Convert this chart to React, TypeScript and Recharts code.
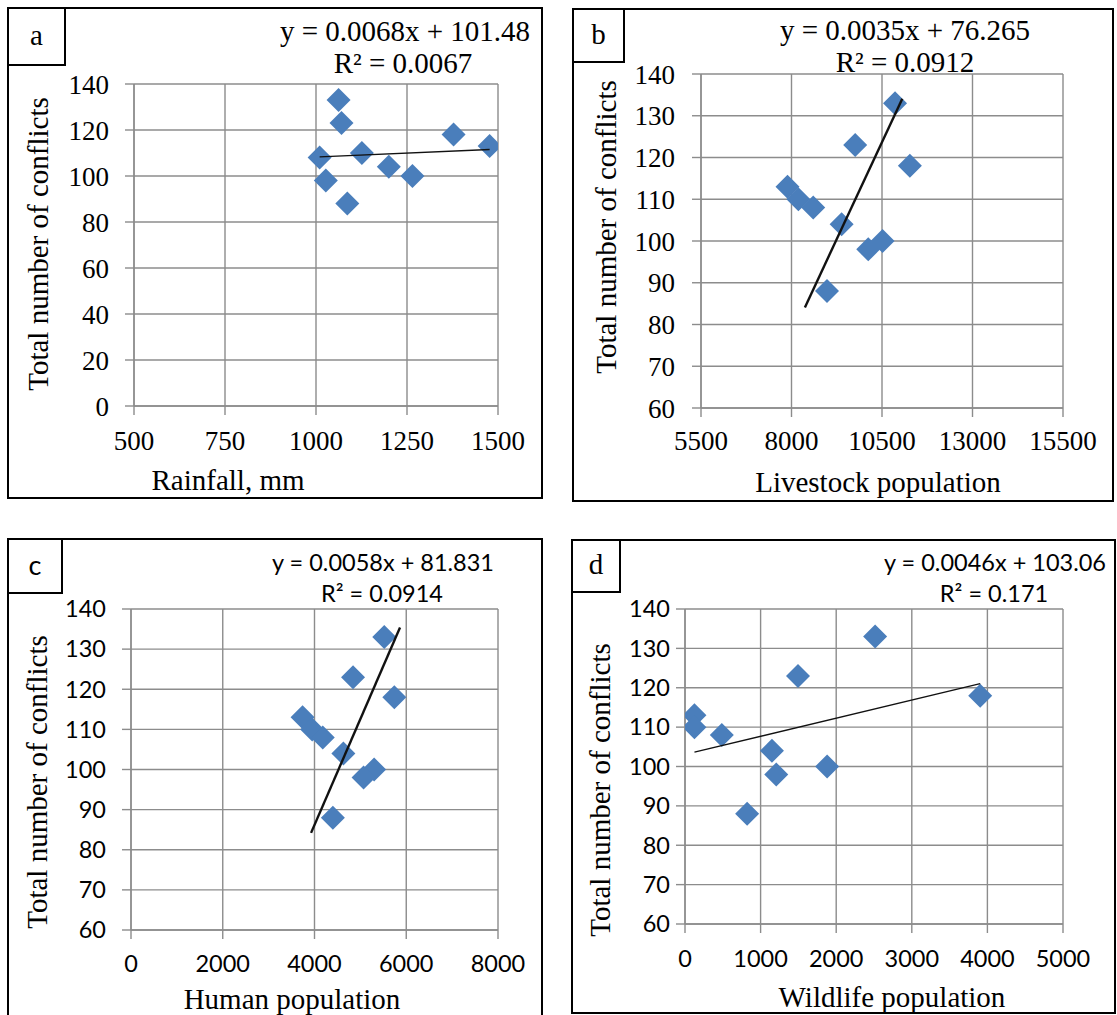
import React from 'react';
import { ScatterChart, Scatter, XAxis, YAxis, CartesianGrid } from 'recharts';

// Total number of conflicts recorded per observation
const conflicts = [133, 123, 118, 113, 110, 108, 104, 100, 98, 88];

// Explanatory variables, same order as conflicts
const rainfallMm = [1062, 1070, 1378, 1477, 1126, 1010, 1200, 1265, 1027, 1086];
const livestockPop = [10860, 9760, 11270, 7890, 8190, 8600, 9385, 10515, 10120, 8980];
const humanPop = [5520, 4840, 5740, 3740, 3950, 4180, 4630, 5300, 5070, 4400];
const wildlifePop = [2515, 1495, 3905, 125, 125, 487, 1150, 1880, 1207, 822];

// Axis ticks
const rainfallTicks = [500, 750, 1000, 1250, 1500];
const livestockTicks = [5500, 8000, 10500, 13000, 15500];
const humanTicks = [0, 2000, 4000, 6000, 8000];
const wildlifeTicks = [0, 1000, 2000, 3000, 4000, 5000];
const conflictTicksFull = [0, 20, 40, 60, 80, 100, 120, 140];
const conflictTicksUpper = [60, 70, 80, 90, 100, 110, 120, 130, 140];

// Linear fits reported on each panel
const rainfallFit = { slope: 0.0068, intercept: 101.48, r2: 0.0067 };
const livestockFit = { slope: 0.0035, intercept: 76.265, r2: 0.0912 };
const humanFit = { slope: 0.0058, intercept: 81.831, r2: 0.0914 };
const wildlifeFit = { slope: 0.0046, intercept: 103.06, r2: 0.171 };

// Drawn trend segments for the livestock and human panels
const livestockTrendX = [8370, 11060];
const livestockTrendY = [84.1, 134.1];
const humanTrendX = [3925, 5864];
const humanTrendY = [84.2, 135.4];

const SERIF = '"Liberation Serif", "Times New Roman", serif';
const SANS = 'Lato, "Liberation Sans", sans-serif';
const GRID = '#8c8c8c';
const MARKER = '#4A7EBB';
const TITLE_SIZE = 29;

const pairs = (xs: number[], ys: number[]) => xs.map((x, i) => ({ x, y: ys[i] }));

const fitSegment = (xs: number[], fit: { slope: number; intercept: number }) => {
  const lo = Math.min(...xs);
  const hi = Math.max(...xs);
  return [
    { x: lo, y: fit.slope * lo + fit.intercept },
    { x: hi, y: fit.slope * hi + fit.intercept },
  ];
};

const Diamond = (props: any) => {
  const { cx, cy } = props;
  if (cx == null || cy == null) return <g />;
  const r = 12;
  return (
    <polygon
      points={`${cx},${cy - r} ${cx + r},${cy} ${cx},${cy + r} ${cx - r},${cy}`}
      fill={MARKER}
    />
  );
};

const NoMarker = () => <g />;

type PanelProps = {
  plot: { x0: number; x1: number; y0: number; y1: number };
  xDomain: [number, number];
  xTicks: number[];
  yDomain: [number, number];
  yTicks: number[];
  points: { x: number; y: number }[];
  trend: { x: number; y: number }[];
  trendWidth: number;
  tickFont: string;
  tickSize: number;
  yTickMargin: number;
  xTickMargin: number;
};

const YW = 90;
const XH = 60;
const ML = 4;
const MT = 16;
const MR = 40;
const MB = 4;

function Panel(p: PanelProps) {
  const { x0, x1, y0, y1 } = p.plot;
  const width = x1 - x0 + YW + ML + MR;
  const height = y1 - y0 + MT + XH + MB;
  const tick = { fill: '#000', fontFamily: p.tickFont, fontSize: p.tickSize };
  return (
    <div style={{ position: 'absolute', left: x0 - YW - ML, top: y0 - MT, width, height }}>
      <ScatterChart
        width={width}
        height={height}
        margin={{ top: MT, right: MR, bottom: MB, left: ML }}
      >
        <CartesianGrid stroke={GRID} strokeWidth={1.4} />
        <XAxis
          type="number"
          dataKey="x"
          domain={p.xDomain}
          ticks={p.xTicks}
          interval={0}
          allowDataOverflow
          height={XH}
          tickSize={9}
          tickMargin={p.xTickMargin}
          tick={tick}
          stroke={GRID}
          axisLine={{ stroke: GRID, strokeWidth: 1.4 }}
          tickLine={{ stroke: GRID, strokeWidth: 1.4 }}
        />
        <YAxis
          type="number"
          dataKey="y"
          domain={p.yDomain}
          ticks={p.yTicks}
          interval={0}
          allowDataOverflow
          width={YW}
          tickSize={9}
          tickMargin={p.yTickMargin}
          tick={tick}
          stroke={GRID}
          axisLine={{ stroke: GRID, strokeWidth: 1.4 }}
          tickLine={{ stroke: GRID, strokeWidth: 1.4 }}
        />
        <Scatter data={p.points} shape={Diamond} isAnimationActive={false} />
        <Scatter
          data={p.trend}
          shape={NoMarker}
          line={{ stroke: '#111', strokeWidth: p.trendWidth }}
          isAnimationActive={false}
        />
      </ScatterChart>
    </div>
  );
}

const eqText = (f: { slope: number; intercept: number }) => `y = ${f.slope}x + ${f.intercept}`;
const r2Text = (f: { r2: number }) => `R² = ${f.r2}`;

export default function App() {
  const yTitle = 'Total number of conflicts';
  return (
    <div
      style={{
        position: 'absolute',
        left: 0,
        top: 0,
        width: 1117,
        height: 1015,
        overflow: 'hidden',
        background: '#fff',
      }}
    >
      <Panel
        plot={{ x0: 134, x1: 498, y0: 84, y1: 406 }}
        xDomain={[500, 1500]}
        xTicks={rainfallTicks}
        yDomain={[0, 140]}
        yTicks={conflictTicksFull}
        points={pairs(rainfallMm, conflicts)}
        trend={fitSegment(rainfallMm, rainfallFit)}
        trendWidth={1.3}
        tickFont={SERIF}
        tickSize={27}
        yTickMargin={16}
        xTickMargin={16}
      />
      <Panel
        plot={{ x0: 701, x1: 1063, y0: 74, y1: 408 }}
        xDomain={[5500, 15500]}
        xTicks={livestockTicks}
        yDomain={[60, 140]}
        yTicks={conflictTicksUpper}
        points={pairs(livestockPop, conflicts)}
        trend={pairs(livestockTrendX, livestockTrendY)}
        trendWidth={2.4}
        tickFont={SERIF}
        tickSize={27}
        yTickMargin={17}
        xTickMargin={14}
      />
      <Panel
        plot={{ x0: 131, x1: 498, y0: 609, y1: 930 }}
        xDomain={[0, 8000]}
        xTicks={humanTicks}
        yDomain={[60, 140]}
        yTicks={conflictTicksUpper}
        points={pairs(humanPop, conflicts)}
        trend={pairs(humanTrendX, humanTrendY)}
        trendWidth={2.4}
        tickFont={SANS}
        tickSize={23.5}
        yTickMargin={16}
        xTickMargin={16}
      />
      <Panel
        plot={{ x0: 685, x1: 1063, y0: 609, y1: 924 }}
        xDomain={[0, 5000]}
        xTicks={wildlifeTicks}
        yDomain={[60, 140]}
        yTicks={conflictTicksUpper}
        points={pairs(wildlifePop, conflicts)}
        trend={fitSegment(wildlifePop, wildlifeFit)}
        trendWidth={1.3}
        tickFont={SANS}
        tickSize={23.5}
        yTickMargin={6}
        xTickMargin={17}
      />

      {/* frames, panel letters, fit equations and axis titles */}
      <svg
        width={1117}
        height={1015}
        style={{ position: 'absolute', left: 0, top: 0, pointerEvents: 'none' }}
      >
        <g fill="none" stroke="#000" strokeWidth={2}>
          <rect x={8} y={8} width={534} height={490} />
          <rect x={8} y={8} width={57} height={57} />
          <rect x={573} y={9} width={540} height={492} />
          <rect x={573} y={9} width={51} height={53} />
          <rect x={8} y={539} width={534} height={490} />
          <rect x={8} y={539} width={54} height={54} />
          <rect x={572} y={540} width={543} height={473} />
          <rect x={572} y={540} width={48} height={52} />
        </g>
        <g fill="#000" textAnchor="middle" dominantBaseline="central" fontSize={TITLE_SIZE}>
          <text x={36.5} y={35} fontFamily={SERIF}>a</text>
          <text x={598.5} y={34} fontFamily={SERIF}>b</text>
          <text x={35} y={564} fontFamily={SANS} fontSize={27}>c</text>
          <text x={596} y={564} fontFamily={SERIF}>d</text>

          <text x={405} y={31} fontFamily={SERIF}>{eqText(rainfallFit)}</text>
          <text x={403} y={63} fontFamily={SERIF}>{r2Text(rainfallFit)}</text>
          <text x={905} y={30} fontFamily={SERIF}>{eqText(livestockFit)}</text>
          <text x={905} y={62} fontFamily={SERIF}>{r2Text(livestockFit)}</text>
          <text x={383} y={562} fontFamily={SANS} fontSize={23.5}>{eqText(humanFit)}</text>
          <text x={382} y={593} fontFamily={SANS} fontSize={23.5}>{r2Text(humanFit)}</text>
          <text x={995} y={562} fontFamily={SANS} fontSize={23.5}>{eqText(wildlifeFit)}</text>
          <text x={994} y={593} fontFamily={SANS} fontSize={23.5}>{r2Text(wildlifeFit)}</text>

          <text x={228} y={480} fontFamily={SERIF}>Rainfall, mm</text>
          <text x={878} y={482} fontFamily={SERIF}>Livestock population</text>
          <text x={292} y={999} fontFamily={SERIF}>Human population</text>
          <text x={892} y={997} fontFamily={SERIF}>Wildlife population</text>

          <text x={38} y={244} fontFamily={SERIF} transform="rotate(-90 38 244)">{yTitle}</text>
          <text x={606} y={227} fontFamily={SERIF} transform="rotate(-90 606 227)">{yTitle}</text>
          <text x={37} y={782} fontFamily={SERIF} transform="rotate(-90 37 782)">{yTitle}</text>
          <text x={600} y={790} fontFamily={SERIF} transform="rotate(-90 600 790)">{yTitle}</text>
        </g>
      </svg>
    </div>
  );
}
